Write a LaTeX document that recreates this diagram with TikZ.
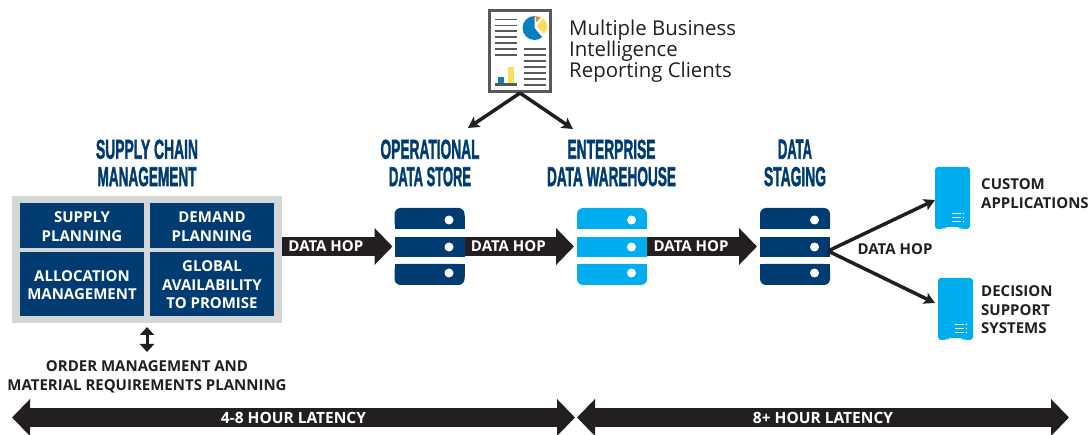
\documentclass[tikz,border=0pt]{standalone}
\usepackage{fontspec}
\setmainfont{Open Sans}
\newfontfamily\titlefont{Liberation Sans Bold}[FakeBold=2.2]
\usetikzlibrary{arrows.meta,calc}
\definecolor{navy}{HTML}{003C71}
\definecolor{sky}{HTML}{00AEEF}
\definecolor{ink}{HTML}{231F20}
\definecolor{panel}{HTML}{D5D6D8}
\definecolor{iconline}{HTML}{58595B}
\definecolor{pieyellow}{HTML}{FFDD57}
\definecolor{pieorange}{HTML}{F5871F}
\definecolor{pieblue}{HTML}{0A7FC2}
\newcommand\ttl[2]{\resizebox{#1pt}{19pt}{\titlefont #2}}
\newcommand\serverstack[3]{% name, centre x, colour
  \node[serverbox] (#1) at (#2,246.5) {};
  \fill[#3,rounded corners=6pt] (#1.north west) rectangle ($(#1.north east)+(0,21)$);
  \fill[#3] ($(#1.north west)+(0,8)$) rectangle ($(#1.north east)+(0,21)$);
  \fill[#3] ($(#1.west)+(0,-9.5)$) rectangle ($(#1.east)+(0,10.5)$);
  \fill[#3,rounded corners=6pt] (#1.south west) rectangle ($(#1.south east)+(0,-21)$);
  \fill[#3] ($(#1.south west)+(0,-8)$) rectangle ($(#1.south east)+(0,-21)$);
  \foreach \yy in {220,247,273} \fill[white] (#2+19.5,\yy) circle (4.5pt);
}
\newcommand\tower[3]{% name, left x, top y
  \node[towerbox] (#1) at (#2+17.5,#3+31) {};
  \fill[sky,rounded corners=3pt] (#2,#3) -- ++(35,0) -- ++(0,62) -- ++(-9,0) -- ++(-1,-2) -- ++(-15,0) -- ++(-1,2) -- ++(-9,0) -- cycle;
  \foreach \dy in {46.5,50.5,54.5} {
    \draw[white,line width=1.3pt] (#2+17,#3+\dy) -- ++(9,0);
    \fill[white] (#2+28.3,#3+\dy) circle (.8pt);
  }
}
\newcommand\cellbox[5]{% name, x, y, height, text
  \node[cell,minimum height=#4pt] (#1) at (#2,#3) {};
  \node[celltext] (#1t) at ($(#1)+(0,1)$) {#5};
}
\tikzset{
  x=1pt,y=-1pt,
  serverbox/.style={minimum width=70pt,minimum height=77pt,inner sep=0pt,outer sep=0pt},
  towerbox/.style={minimum width=35pt,minimum height=62pt,inner sep=0pt,outer sep=0pt},
  cell/.style={fill=navy,minimum width=124pt,inner sep=0pt,outer sep=0pt},
  celltext/.style={text=white,font=\fontsize{15}{18.5}\selectfont\bfseries,align=center,inner sep=0pt},
  heading/.style={text=navy,align=center,inner sep=0pt,font=\fontsize{20}{27.3}\selectfont},
  label/.style={text=ink,align=left,inner sep=0pt,font=\fontsize{15}{18.5}\selectfont\bfseries},
  hoptext/.style={text=white,inner sep=0pt,font=\fontsize{15}{18}\selectfont\bfseries},
  lattext/.style={text=white,inner sep=0pt,font=\fontsize{15.5}{18}\selectfont\bfseries},
  blockarrow/.style={ink,line width=19pt,-{Triangle[length=18pt,width=36pt]}},
  latency/.style={ink,line width=19pt,{Triangle[length=18pt,width=36pt]}-{Triangle[length=18pt,width=36pt]}},
  thinarrow/.style={ink,line width=3.5pt,-{Stealth[length=11pt,width=12pt,inset=2.5pt]}},
  reportline/.style={iconline,line width=1.9pt},
}
\begin{document}
\begin{tikzpicture}
\useasboundingbox (0,0) rectangle (1089,435);
% panel
\node[fill=panel,minimum width=270pt,minimum height=127pt,inner sep=0pt,outer sep=0pt] (scm) at (147,259.5) {};
\cellbox{supply}{82}{225.5}{45}{SUPPLY\\PLANNING}
\cellbox{demand}{212}{225.5}{45}{DEMAND\\PLANNING}
\cellbox{alloc}{82}{284}{64}{ALLOCATION\\MANAGEMENT}
\cellbox{global}{212}{284}{64}{GLOBAL\\AVAILABILITY\\TO PROMISE}
% headings
\node[heading] (hscm) at (147,163) {\ttl{102}{SUPPLY CHAIN}\\\ttl{99}{MANAGEMENT}};
\node[heading] (hods) at (430,163) {\ttl{99}{OPERATIONAL}\\\ttl{82}{DATA STORE}};
\node[heading] (hedw) at (611.5,163) {\ttl{88}{ENTERPRISE}\\\ttl{129}{DATA WAREHOUSE}};
\node[heading] (hstg) at (795,163) {\ttl{34}{DATA}\\\ttl{62}{STAGING}};
% servers
\serverstack{ods}{429.5}{navy}
\serverstack{edw}{612}{sky}
\serverstack{stg}{795}{navy}
% towers
\tower{custom}{935}{167}
\tower{decision}{938}{278}
% block connectors
\draw[blockarrow,shorten >=2pt] (ods.west -| scm.east) -- node[pos=.39,hoptext] (hop1) {DATA HOP} (ods.west);
\draw[blockarrow,shorten >=3pt] (ods.east) -- node[pos=.39,hoptext] (hop2) {DATA HOP} (edw.west);
\draw[blockarrow,shorten >=3pt] (edw.east) -- node[pos=.39,hoptext] (hop3) {DATA HOP} (stg.west);
% fan out
\coordinate (fan) at ($(stg.east)+(-2,4.5)$);
\draw[thinarrow] (fan) -- ($(custom.west)+(0,2)$);
\draw[thinarrow] (fan) -- ($(decision.west)+(-3,-6)$);
\node[text=ink,inner sep=0pt,font=\fontsize{15}{18}\selectfont\bfseries] (hop4) at (895,249.5) {DATA HOP};
\node[label,anchor=west] (lcustom) at (981,193.5) {CUSTOM\\APPLICATIONS};
\node[label,anchor=west] (ldecision) at (981,310) {DECISION\\SUPPORT\\SYSTEMS};
% order management
\node[text=ink,align=center,inner sep=0pt,font=\fontsize{15}{19}\selectfont\bfseries] (order) at (147,376.5) {ORDER MANAGEMENT AND\\MATERIAL REQUIREMENTS PLANNING};
\coordinate (dtop) at (147,327);
\coordinate (dbot) at (147,352);
\draw[ink,line width=3pt,{Triangle[length=8pt,width=14pt]}-{Triangle[length=8pt,width=14pt]}] (dtop) -- (dbot);
% latency
\coordinate (l1) at (12,417.5);
\coordinate (l2) at (575,417.5);
\coordinate (l3) at (577,417.5);
\coordinate (l4) at (1069,417.5);
\draw[latency] (l1) -- node[lattext] (lat1) {4-8 HOUR LATENCY} (l2);
\draw[latency] (l3) -- node[lattext] (lat2) {8+ HOUR LATENCY} (l4);
% report icon
\node[draw=iconline,fill=white,line width=3pt,minimum width=61pt,minimum height=81pt,inner sep=0pt,outer sep=1.5pt] (report) at (520,51) {};
\foreach \yy in {19.5,25.5,31,37,43,49,55} \draw[reportline] (495,\yy) -- (517,\yy);
\foreach \yy in {49,55,61,67,73,79,85} \draw[reportline] (524,\yy) -- (546,\yy);
\draw[iconline,line width=2.6pt] (495,84.5) -- (517,84.5);
\fill[pieblue] (498,77) rectangle (504,83);
\fill[pieyellow] (508,67.5) rectangle (514,83);
\fill[pieblue] (534.5,28) -- (534.5,16) arc[start angle=90,end angle=310,radius=12pt] -- cycle;
\fill[pieyellow] (536.5,26.5) -- (543.25,18.46) arc[start angle=50,end angle=-45,radius=10.5pt] -- cycle;
\fill[pieorange] (535.3,16) -- (540.7,17.3) -- (536.3,22.3) -- cycle;
\draw[thinarrow] (report.south) -- (468,128);
\draw[thinarrow] (report.south) -- (573,129);
\node[text=ink,align=left,anchor=north west,inner sep=0pt,font=\fontsize{20.4}{21}\selectfont] (bi) at (569,20) {Multiple Business\\Intelligence\\Reporting Clients};
\end{tikzpicture}
\end{document}
